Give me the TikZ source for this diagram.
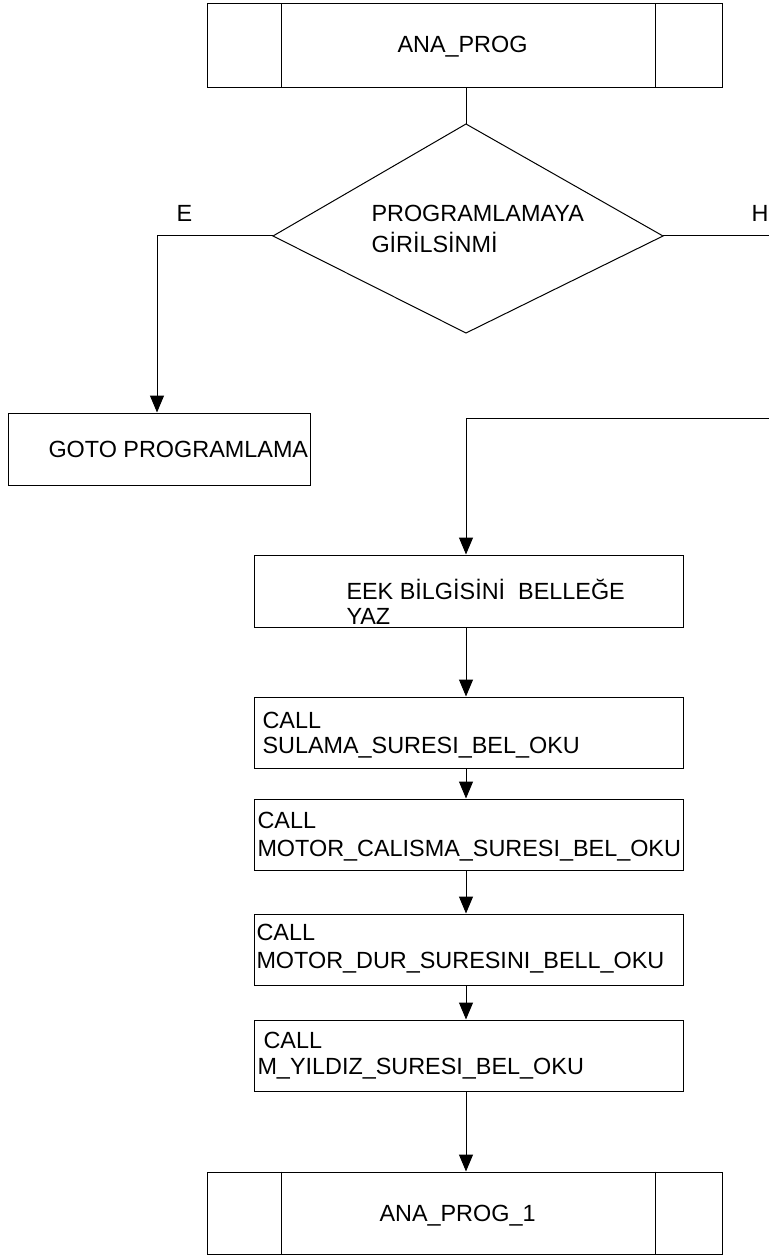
\documentclass[tikz,border=0pt]{standalone}
\usepackage{fontspec}
\setmainfont{Liberation Sans}
\usetikzlibrary{arrows.meta,calc}
\begin{document}
\begin{tikzpicture}[x=1pt,y=-1pt,
  line width=1pt,
  every node/.style={font=\fontsize{23.4}{26}\selectfont},
  boxnode/.style={draw,inner sep=0pt,minimum width=429pt,minimum height=71pt},
  subnode/.style={draw,inner sep=0pt,minimum width=515pt,minimum height=84pt},
  txt/.style={anchor=base west,inner sep=0pt},
  arr/.style={-{Triangle[length=17pt,width=14pt]}}]
\useasboundingbox (0,0) rectangle (768,1257);
% top subprogram box
\node[subnode] (top) at (464.5,46) {};
\draw ($(top.north west)+(75,0)$) -- ($(top.south west)+(75,0)$);
\draw ($(top.north east)+(-67,0)$) -- ($(top.south east)+(-67,0)$);
\node[txt] (toptxt) at (397,53) {ANA\_PROG};
% decision
\coordinate (dN) at (466,124);
\coordinate (dE) at (663,236);
\coordinate (dS) at (466,333);
\coordinate (dW) at (273,236);
\draw (dN) -- (dE) -- (dS) -- (dW) -- cycle;
\node[txt] (dq1) at (371,222) {PROGRAMLAMAYA};
\node[txt] (dq2) at (371,252) {GİRİLSİNMİ};
\node[txt] (lE) at (176,222) {E};
\node[txt] (lH) at (751,222) {H};
\draw (top.south -| dN) -- (dN);
% E branch
\node[draw,inner sep=0pt,minimum width=302pt,minimum height=72pt] (goto) at (159,449) {};
\node[txt] (gototxt) at (48,457) {GOTO PROGRAMLAMA};
\draw[arr] (dW) -| ($(goto.north)+(-2,0)$);
% H branch
\coordinate (hOut) at (770,236);
\draw (dE) -- (hOut);
\coordinate (hIn) at (770,418);
% main chain
\node[boxnode,minimum height=72pt] (eek) at (468.5,591) {};
\node[txt] (eek1) at (346,599) {EEK BİLGİSİNİ\ \ BELLEĞE};
\node[txt] (eek2) at (346,624) {YAZ};
\draw[arr] (hIn) -| (eek.north -| dN);
\node[boxnode] (s1) at (468.5,732.5) {};
\node[txt] (s1a) at (262,728) {CALL};
\node[txt] (s1b) at (262,753) {SULAMA\_SURESI\_BEL\_OKU};
\node[boxnode] (s2) at (468.5,834.5) {};
\node[txt] (s2a) at (257,828) {CALL};
\node[txt] (s2b) at (257,856) {MOTOR\_CALISMA\_SURESI\_BEL\_OKU};
\node[boxnode] (s3) at (468.5,949.5) {};
\node[txt] (s3a) at (256,940) {CALL};
\node[txt] (s3b) at (256,968) {MOTOR\_DUR\_SURESINI\_BELL\_OKU};
\node[boxnode] (s4) at (468.5,1055.5) {};
\node[txt] (s4a) at (263,1048) {CALL};
\node[txt] (s4b) at (257,1074) {M\_YILDIZ\_SURESI\_BEL\_OKU};
\node[subnode,minimum height=82pt] (bot) at (464.5,1213) {};
\draw ($(bot.north west)+(75,0)$) -- ($(bot.south west)+(75,0)$);
\draw ($(bot.north east)+(-67,0)$) -- ($(bot.south east)+(-67,0)$);
\node[txt] (bottxt) at (379,1221) {ANA\_PROG\_1};
\draw[arr] (eek.south -| dN) -- (s1.north -| dN);
\draw[arr] (s1.south -| dN) -- (s2.north -| dN);
\draw[arr] (s2.south -| dN) -- (s3.north -| dN);
\draw[arr] (s3.south -| dN) -- (s4.north -| dN);
\draw[arr] (s4.south -| dN) -- (bot.north -| dN);
\end{tikzpicture}
\end{document}
